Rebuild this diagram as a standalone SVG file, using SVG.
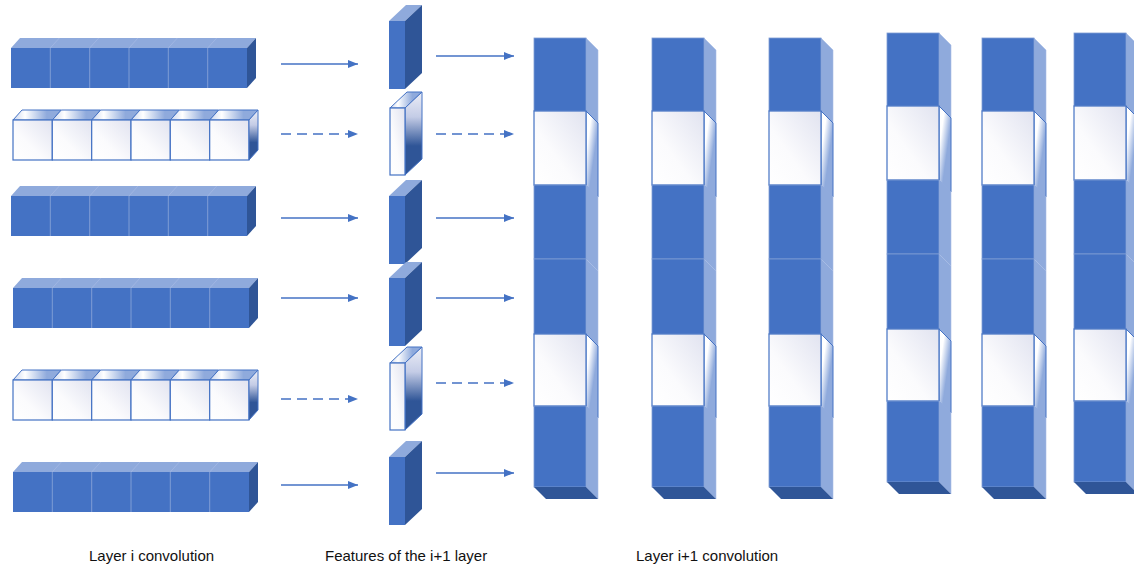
<svg xmlns="http://www.w3.org/2000/svg" xmlns:xlink="http://www.w3.org/1999/xlink" width="1134" height="566" viewBox="0 0 1134 566">
<style>
.bf{fill:#4472c4}
.lf{fill:#8faadc}
.df{fill:#2f5597}
.dv{stroke:#7f9dd5;stroke-width:1;fill:none}
.dvt{stroke:#a3b8e3;stroke-width:0.8;fill:none}
.wf{fill:url(#gWF);stroke:#4472c4;stroke-width:1.2}
.wt{fill:url(#gWT);stroke:#4472c4;stroke-width:1}
.ws{fill:url(#gWS);stroke:#4472c4;stroke-width:1}
.cbf{fill:#4472c4;stroke:#7f9dd5;stroke-width:0.8}
.clf{fill:#8faadc;stroke:#a9bde6;stroke-width:0.6}
.cwf{fill:url(#gWF);stroke:#4472c4;stroke-width:1.2}
.cws{fill:url(#gCS);stroke:#4472c4;stroke-width:1}
.ar{stroke:#4472c4;stroke-width:1.5;fill:none;marker-end:url(#ah)}
.dash{stroke-dasharray:10 6}
.lbl{font-family:"Liberation Sans",Arial,sans-serif;font-size:15px;fill:#111}
</style>
<defs>
<linearGradient id="gWF" x1="1" y1="0" x2="0" y2="1">
<stop offset="0" stop-color="#e1e3f0"/><stop offset="0.6" stop-color="#fbfbfd"/><stop offset="1" stop-color="#ffffff"/>
</linearGradient>
<linearGradient id="gWT" x1="0" y1="0" x2="1" y2="0">
<stop offset="0" stop-color="#c9d5ee"/><stop offset="0.25" stop-color="#ffffff"/><stop offset="0.7" stop-color="#8faadc"/><stop offset="1" stop-color="#8faadc"/>
</linearGradient>
<linearGradient id="gWS" x1="0" y1="0" x2="0" y2="1">
<stop offset="0" stop-color="#eceef7"/><stop offset="0.3" stop-color="#c4cce6"/><stop offset="0.65" stop-color="#2f5597"/><stop offset="1" stop-color="#2f5597"/>
</linearGradient>
<linearGradient id="gCS" x1="0" y1="0" x2="1" y2="1">
<stop offset="0" stop-color="#ffffff"/><stop offset="0.25" stop-color="#ffffff"/><stop offset="0.6" stop-color="#8faadc"/><stop offset="1" stop-color="#8faadc"/>
</linearGradient>
<marker id="ah" markerUnits="userSpaceOnUse" markerWidth="10" markerHeight="8" refX="10" refY="4" orient="auto">
<path d="M0,0 L10,4 L0,8 z" fill="#4472c4"/>
</marker>
<g id="rowBlue">
<polygon class="lf" points="0,0 9,-10 245,-10 236,0"/>
<polygon class="df" points="236,0 245,-10 245,30 236,40"/>
<rect class="bf" x="0" y="0" width="236" height="40"/>
<path class="dv" d="M39.3,0V40M78.7,0V40M118,0V40M157.3,0V40M196.7,0V40"/>
<path class="dvt" d="M39.3,0l9,-10M78.7,0l9,-10M118,0l9,-10M157.3,0l9,-10M196.7,0l9,-10"/>
</g>
<g id="wcube">
<polygon class="wt" points="0,0 9,-10 48.3,-10 39.3,0"/>
<rect class="wf" x="0" y="0" width="39.3" height="40"/>
</g>
<g id="rowWhite">
<use xlink:href="#wcube" x="0"/>
<use xlink:href="#wcube" x="39.3"/>
<use xlink:href="#wcube" x="78.7"/>
<use xlink:href="#wcube" x="118"/>
<use xlink:href="#wcube" x="157.3"/>
<use xlink:href="#wcube" x="196.7"/>
<polygon class="ws" points="236,0 245,-10 245,30 236,40"/>
</g>
<g id="featBlue">
<polygon class="lf" points="0,0 17,-16 33,-16 16,0"/>
<polygon class="df" points="16,0 33,-16 33,52 16,68"/>
<rect class="bf" x="0" y="0" width="16" height="68"/>
</g>
<g id="featWhite">
<polygon class="wt" points="0,0 17,-16 32,-16 15,0"/>
<polygon class="ws" points="15,0 32,-16 32,51 15,67"/>
<rect class="wf" x="0" y="0" width="15" height="67"/>
</g>
<g id="column">
<polygon class="clf" points="52,0 64,12 64,85 52,73"/>
<rect class="cbf" x="0" y="0" width="52" height="73"/>
<polygon class="cws" points="52,73 64,85 64,159 52,147"/>
<rect class="cwf" x="0" y="73" width="52" height="74"/>
<polygon class="clf" points="52,147 64,159 64,233 52,221"/>
<rect class="cbf" x="0" y="147" width="52" height="74"/>
<polygon class="clf" points="52,221 64,233 64,308 52,296"/>
<rect class="cbf" x="0" y="221" width="52" height="75"/>
<polygon class="cws" points="52,296 64,308 64,380 52,368"/>
<rect class="cwf" x="0" y="296" width="52" height="72"/>
<polygon class="clf" points="52,368 64,380 64,461 52,449"/>
<rect class="cbf" x="0" y="368" width="52" height="81"/>
<polygon class="df" points="0,449 52,449 64,461 12,461"/>
</g>
</defs>
<rect width="1134" height="566" fill="#ffffff"/>
<g id="layer-i">
<g id="row1"><use xlink:href="#rowBlue" x="11" y="48"/></g>
<g id="row2"><use xlink:href="#rowWhite" x="13" y="120"/></g>
<g id="row3"><use xlink:href="#rowBlue" x="11" y="196"/></g>
<g id="row4"><use xlink:href="#rowBlue" x="13" y="288"/></g>
<g id="row5"><use xlink:href="#rowWhite" x="13" y="380"/></g>
<g id="row6"><use xlink:href="#rowBlue" x="13" y="472"/></g>
</g>
<g id="features">
<g id="feat1"><use xlink:href="#featBlue" x="389" y="21"/></g>
<g id="feat2"><use xlink:href="#featWhite" x="390" y="108"/></g>
<g id="feat3"><use xlink:href="#featBlue" x="389" y="196"/></g>
<g id="feat4"><use xlink:href="#featBlue" x="389" y="278"/></g>
<g id="feat5"><use xlink:href="#featWhite" x="390" y="363"/></g>
<g id="feat6"><use xlink:href="#featBlue" x="389" y="457"/></g>
</g>
<g id="layer-i1">
<g id="col1"><use xlink:href="#column" x="534" y="38"/></g>
<g id="col2"><use xlink:href="#column" x="652" y="38"/></g>
<g id="col3"><use xlink:href="#column" x="769" y="38"/></g>
<g id="col4"><use xlink:href="#column" x="887" y="33"/></g>
<g id="col5"><use xlink:href="#column" x="982" y="38"/></g>
<g id="col6"><use xlink:href="#column" x="1074" y="33"/></g>
</g>
<g id="connectors">
<line class="ar" x1="281" y1="64" x2="358" y2="64"/>
<line class="ar dash" x1="281" y1="134" x2="358" y2="134"/>
<line class="ar" x1="281" y1="218" x2="358" y2="218"/>
<line class="ar" x1="281" y1="298" x2="358" y2="298"/>
<line class="ar dash" x1="281" y1="399" x2="358" y2="399"/>
<line class="ar" x1="281" y1="485" x2="358" y2="485"/>
<line class="ar" x1="436" y1="56" x2="514" y2="56"/>
<line class="ar dash" x1="436" y1="134" x2="514" y2="134"/>
<line class="ar" x1="436" y1="218" x2="514" y2="218"/>
<line class="ar" x1="436" y1="298" x2="514" y2="298"/>
<line class="ar dash" x1="436" y1="383" x2="514" y2="383"/>
<line class="ar" x1="436" y1="473" x2="514" y2="473"/>
</g>
<g id="labels">
<text class="lbl" x="89" y="561">Layer i convolution</text>
<text class="lbl" x="325" y="561">Features of the i+1 layer</text>
<text class="lbl" x="636" y="561">Layer i+1 convolution</text>
</g>
</svg>
